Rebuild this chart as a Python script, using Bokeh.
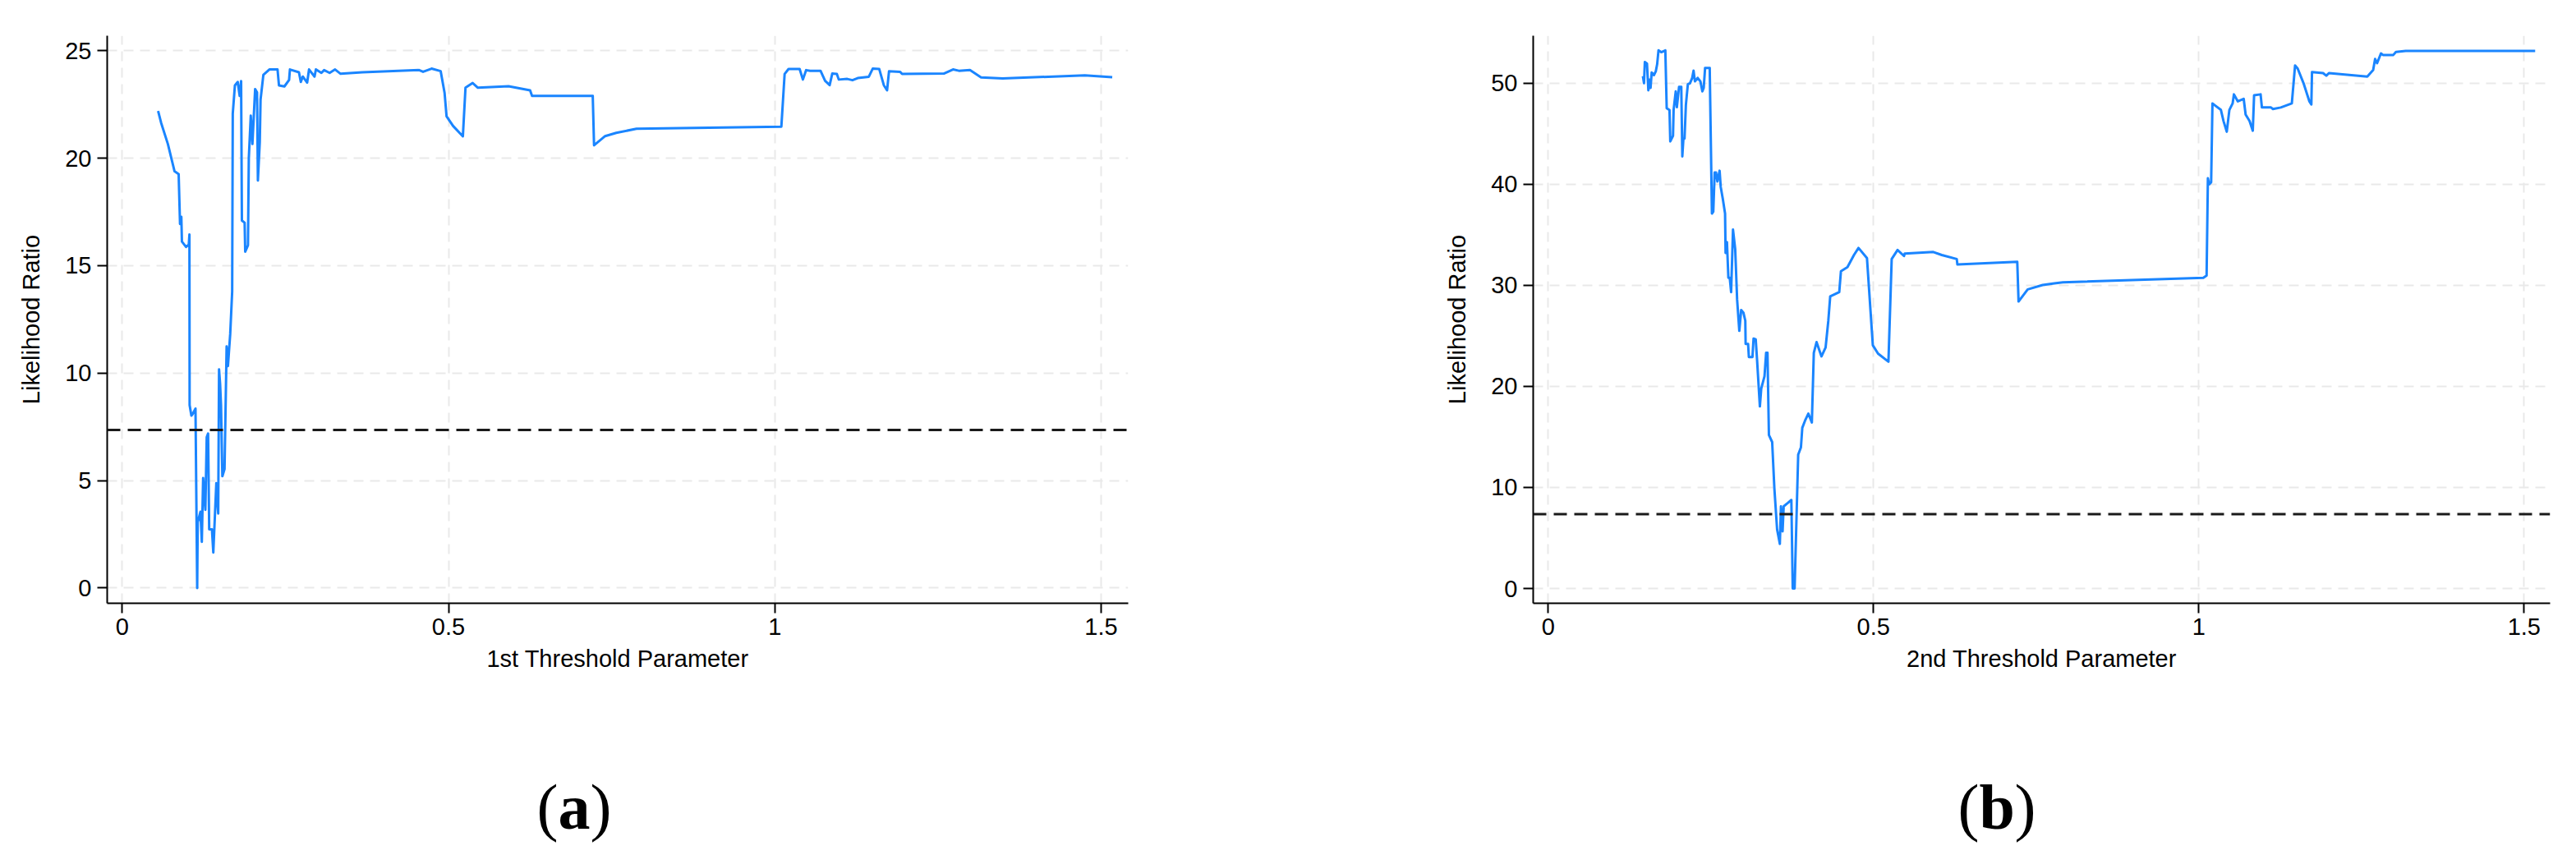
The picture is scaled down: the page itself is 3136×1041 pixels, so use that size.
from bokeh.plotting import figure
from bokeh.models import Range1d, FixedTicker, Span
from bokeh.layouts import row, column
from bokeh.core.properties import value
from bokeh.embed import file_html
from bokeh.resources import INLINE

# ---------------- data ----------------
x_ticks = [0, 0.5, 1, 1.5]
x_tick_labels = ["0", "0.5", "1", "1.5"]
y1_ticks = [0, 5, 10, 15, 20, 25]
y2_ticks = [0, 10, 20, 30, 40, 50]
critical_value = 7.35

x_title_a = "1st Threshold Parameter"
x_title_b = "2nd Threshold Parameter"
y_title = "Likelihood Ratio"
caption_letters = ["a", "b"]

lr1_x = [0.055, 0.0596, 0.070, 0.0802, 0.0865, 0.0886, 0.0899, 0.0906, 0.0915, 0.0978, 0.102, 0.103,
         0.1033, 0.106, 0.108, 0.1123, 0.1149, 0.1157, 0.1199, 0.122, 0.124, 0.1274, 0.1295, 0.1316,
         0.1333, 0.1375, 0.1396, 0.1442, 0.1471, 0.1484, 0.150, 0.1514, 0.1535, 0.1568, 0.160, 0.162,
         0.1655, 0.1685, 0.1694, 0.1727, 0.177, 0.180, 0.1822, 0.1834, 0.1876, 0.1885, 0.1927, 0.194,
         0.197, 0.1995, 0.2037, 0.2066, 0.2079, 0.2108, 0.212, 0.2163, 0.2255, 0.238, 0.2402, 0.2485,
         0.2557, 0.257, 0.2708, 0.2737, 0.2767, 0.2834, 0.2863, 0.2947, 0.2968, 0.3052, 0.3094, 0.3178,
         0.3262, 0.3346, 0.368, 0.455, 0.461, 0.474, 0.488, 0.494, 0.497, 0.507, 0.522, 0.526, 0.537,
         0.545, 0.592, 0.625, 0.628, 0.721, 0.723, 0.740, 0.757, 0.788, 1.010, 1.015, 1.021, 1.038,
         1.043, 1.048, 1.054, 1.070, 1.077, 1.084, 1.088, 1.095, 1.098, 1.111, 1.119, 1.127, 1.144,
         1.150, 1.160, 1.167, 1.172, 1.175, 1.192, 1.195, 1.259, 1.273, 1.282, 1.299, 1.316, 1.349,
         1.475, 1.517]
lr1_y = [22.2, 21.65, 20.66, 19.39, 19.26, 16.94, 17.27, 17.27, 16.12, 15.87, 15.98, 16.45,
         8.51, 8.02, 8.1, 8.35, 0.0, 3.06, 3.55, 2.15, 5.12, 3.64, 7.02, 7.19,
         2.73, 2.73, 1.65, 4.88, 3.47, 10.17, 9.5, 8.5, 5.2, 5.54, 11.24, 10.33,
         11.82, 13.8, 22.07, 23.39, 23.55, 22.9, 23.59, 17.1, 17.0, 15.65, 15.95, 20.0,
         21.98, 20.66, 23.22, 23.06, 18.96, 20.74, 22.73, 23.88, 24.13, 24.13, 23.39, 23.34,
         23.64, 24.13, 24.0, 23.55, 23.8, 23.52, 24.13, 23.8, 24.13, 23.97, 24.1, 23.97,
         24.13, 23.93, 24.0, 24.1, 24.02, 24.17, 24.05, 23.03, 21.95, 21.5, 21.02, 23.28, 23.5,
         23.28, 23.35, 23.16, 22.9, 22.9, 20.6, 21.03, 21.18, 21.37, 21.47, 23.92, 24.15, 24.15,
         23.66, 24.1, 24.07, 24.07, 23.6, 23.4, 23.94, 23.92, 23.66, 23.69, 23.63, 23.73, 23.79,
         24.17, 24.15, 23.4, 23.16, 24.05, 24.02, 23.92, 23.94, 24.13, 24.07, 24.1, 23.76, 23.71,
         23.86, 23.77]

lr2_x = [0.1456, 0.1473, 0.1486, 0.1519, 0.1540, 0.1557, 0.1574, 0.1591, 0.1625, 0.1654, 0.1675,
         0.1696, 0.1738, 0.1801, 0.1822, 0.1865, 0.1877, 0.1919, 0.1928, 0.1961, 0.1978, 0.2012,
         0.2046, 0.2062, 0.2079, 0.2096, 0.2117, 0.2147, 0.2180, 0.2214, 0.2235, 0.2256, 0.2298,
         0.2340, 0.2370, 0.2391, 0.2412, 0.2483, 0.2517, 0.2538, 0.2559, 0.2580, 0.2601, 0.2635,
         0.2652, 0.2685, 0.2719, 0.2727, 0.2748, 0.2770, 0.2791, 0.2812, 0.2841, 0.2875, 0.2904,
         0.2938, 0.2967, 0.3001, 0.3030, 0.3035, 0.3073, 0.3085, 0.3140, 0.3157, 0.3190, 0.3211,
         0.3254, 0.3275, 0.3325, 0.3350, 0.3371, 0.3393, 0.3443, 0.3477, 0.3519, 0.3561, 0.3578,
         0.3603, 0.3620, 0.3687, 0.3738, 0.3759, 0.3788, 0.3843, 0.3885, 0.3906, 0.3948, 0.3999,
         0.4053, 0.4083, 0.4125, 0.4201, 0.4264, 0.4306, 0.4335, 0.4474, 0.450, 0.460, 0.470,
         0.477, 0.490, 0.499, 0.507, 0.523, 0.528, 0.537, 0.547, 0.548, 0.592, 0.605, 0.628,
         0.629, 0.721, 0.723, 0.737, 0.760, 0.778, 0.791, 1.007, 1.012, 1.014, 1.016, 1.019,
         1.021, 1.025, 1.034, 1.038, 1.043, 1.047, 1.052, 1.054, 1.060, 1.069, 1.072, 1.078,
         1.083, 1.085, 1.095, 1.097, 1.111, 1.114, 1.126, 1.143, 1.148, 1.152, 1.161, 1.170,
         1.173, 1.174, 1.191, 1.196, 1.200, 1.259, 1.268, 1.271, 1.274, 1.280, 1.283, 1.299,
         1.303, 1.318, 1.517]
lr2_y = [50.7, 50.0, 52.1, 51.94, 49.3, 50.35, 49.54, 51.06, 50.8, 51.17, 51.87,
         53.25, 53.07, 53.25, 47.53, 47.35, 44.24, 44.8, 47.35, 49.19, 47.63, 49.65,
         49.65, 42.76, 44.52, 44.52, 47.88, 49.89, 50.0, 50.53, 51.24, 50.18, 50.53,
         50.18, 49.19, 49.54, 51.52, 51.52, 37.1, 37.3, 41.17, 41.17, 40.28, 41.34,
         39.75, 38.52, 37.1, 33.2, 34.28, 30.74, 30.74, 29.33, 35.51, 33.57, 28.62,
         25.5, 27.56, 27.3, 26.5, 24.2, 24.2, 22.9, 22.9, 24.73, 24.66, 22.6,
         18.02, 19.79, 21.0, 23.32, 23.32, 15.19, 14.49, 9.89, 5.83, 4.42, 8.13,
         5.65, 8.13, 8.48, 8.76, 0.0, 0.0, 13.25, 13.96, 15.9, 16.61, 17.31,
         16.43, 23.32, 24.38, 22.97, 23.85, 26.5, 28.9, 29.33, 31.4, 31.8, 33.0,
         33.7, 32.7, 24.07, 23.25, 22.44, 32.6, 33.5, 32.9, 33.15, 33.3, 33.0, 32.6,
         32.06, 32.33, 28.4, 29.6, 30.03, 30.2, 30.3, 30.75, 30.97, 40.6, 40.0, 40.2,
         48.0, 47.8, 47.36, 46.26, 45.2, 47.36, 48.0, 48.9, 48.2, 48.46, 46.9, 46.26,
         45.3, 48.8, 48.9, 47.6, 47.6, 47.45, 47.6, 48.0, 51.76, 51.45, 50.0, 48.2,
         47.9, 51.1, 51.0, 50.75, 51.0, 50.66, 51.3, 52.4, 51.98, 52.95, 52.8, 52.8,
         53.1, 53.2, 53.2]

# ---------------- styling ----------------
LINE_COLOR = "#1a85ff"
SANS = "Liberation Sans"
SERIF = "Liberation Serif"
PANEL_H = 880      # page y 0 .. 880
CAP_H = 156        # page y 880 .. 1036


def make_panel(width, x_range, y_range, y_ticks, xs, ys, x_title,
               b_left, b_right, b_top, b_bottom):
    p = figure(width=width, height=PANEL_H, x_range=Range1d(*x_range), y_range=Range1d(*y_range),
               output_backend="svg", toolbar_location=None, title=None,
               min_border_left=b_left, min_border_right=b_right,
               min_border_top=b_top, min_border_bottom=b_bottom)
    p.outline_line_color = None
    p.background_fill_color = "white"
    p.border_fill_color = "white"

    p.xaxis.ticker = FixedTicker(ticks=x_ticks)
    p.xaxis.major_label_overrides = {t: s for t, s in zip(x_ticks, x_tick_labels)}
    p.yaxis.ticker = FixedTicker(ticks=y_ticks)
    p.yaxis.major_label_overrides = {t: str(t) for t in y_ticks}

    for ax in (p.xaxis[0], p.yaxis[0]):
        ax.axis_line_color = "black"
        ax.axis_line_width = 2
        ax.major_tick_line_color = "black"
        ax.major_tick_line_width = 2
        ax.major_tick_out = 12
        ax.major_tick_in = 0
        ax.minor_tick_line_color = None
        ax.major_label_text_font = SANS
        ax.major_label_text_font_size = "29px"
        ax.major_label_text_color = "black"
        ax.axis_label_text_font = SANS
        ax.axis_label_text_font_size = "29px"
        ax.axis_label_text_font_style = "normal"
        ax.axis_label_text_color = "black"
    p.xaxis.major_label_standoff = 6
    p.yaxis.major_label_standoff = 7
    p.xaxis.axis_label_standoff = 10
    p.yaxis.axis_label_standoff = 22
    p.xaxis.axis_label = x_title
    p.yaxis.axis_label = y_title

    for g in (p.xgrid[0], p.ygrid[0]):
        g.grid_line_color = "#e9e9e9"
        g.grid_line_width = 2
        g.grid_line_dash = "12 8"

    p.add_layout(Span(location=critical_value, dimension="width", line_color="#1a1a1a",
                      line_width=3, line_dash="16 9"))
    p.line(xs, ys, line_color=LINE_COLOR, line_width=3, line_join="round")
    return p


def make_caption(width, letter, x0, letter_w):
    c = figure(width=width, height=CAP_H, x_range=Range1d(0, width), y_range=Range1d(0, CAP_H),
               output_backend="svg", toolbar_location=None, title=None,
               min_border_left=0, min_border_right=0, min_border_top=0, min_border_bottom=0)
    c.axis.visible = False
    c.grid.visible = False
    c.outline_line_color = None
    base = 54
    c.text(x=[x0, x0 + 26 + letter_w], y=[base, base], text=["(", ")"],
           text_font=value(SERIF), text_font_size="78px", text_font_style="normal",
           text_color="black", text_align="left", text_baseline="alphabetic")
    c.text(x=[x0 + 26], y=[base], text=[letter],
           text_font=value(SERIF), text_font_size="78px", text_font_style="bold",
           text_color="black", text_align="left", text_baseline="alphabetic")
    return c


left = make_panel(1740, (-0.023, 1.5415), (-0.71, 25.7), y1_ticks, lr1_x, lr1_y, x_title_a,
                  130, 367, 43, 144)
right = make_panel(1396, (-0.023, 1.540), (-1.46, 54.7), y2_ticks, lr2_x, lr2_y, x_title_b,
                   126, 32, 43, 146)

cap_left = make_caption(1740, caption_letters[0], 653, 39)
cap_right = make_caption(1396, caption_letters[1], 643, 43)

layout = column(row(left, right, spacing=0), row(cap_left, cap_right, spacing=0), spacing=0)
open("out.html", "w").write(file_html(layout, INLINE))
